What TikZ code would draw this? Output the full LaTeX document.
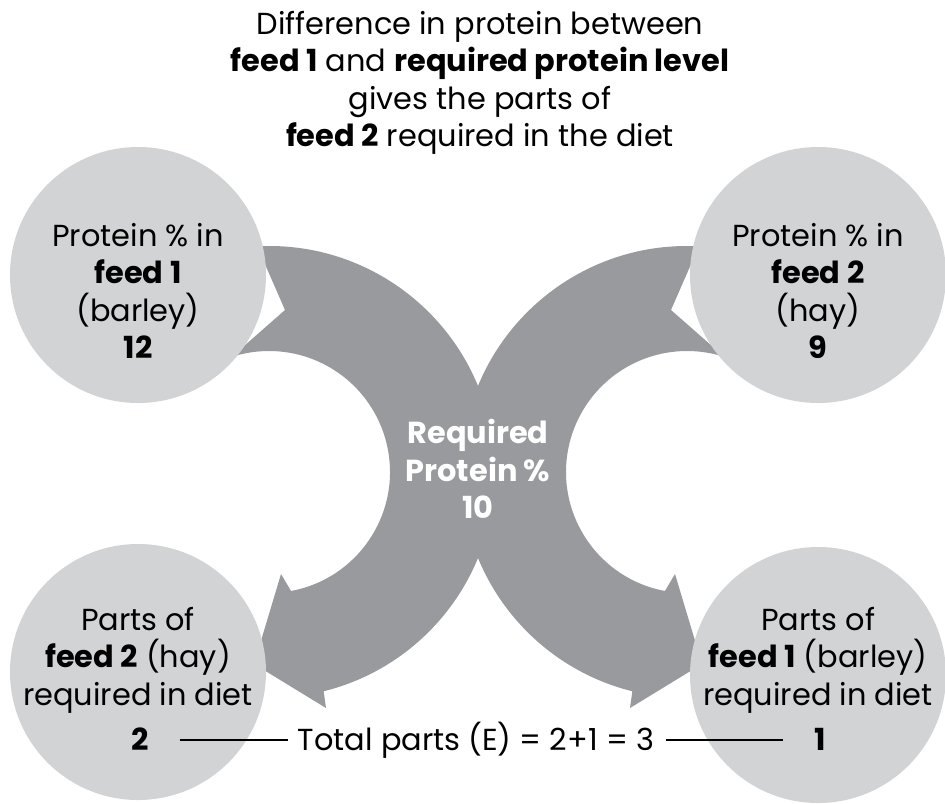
\documentclass[tikz,border=0pt]{standalone}
\usepackage{fontspec}
\setmainfont{Poppins}
\usetikzlibrary{positioning}

\definecolor{discgray}{HTML}{D1D3D4}
\definecolor{arrowgray}{HTML}{999A9E}

\begin{document}
\begin{tikzpicture}[
        x=0.75pt, y=-0.75pt,                 % one unit = one pixel, y downwards
        every node/.style={
            font=\fontsize{22.8}{28.1}\selectfont,
            align=center,
            inner sep=0pt
        },
        disc/.style={circle, fill=discgray, minimum size=192pt},
        midtext/.style={text=white, font=\fontsize{22.8}{28.1}\selectfont\bfseries},
        val/.style={font=\fontsize{22.8}{28.1}\selectfont\bfseries, text height=15pt, text depth=0pt},
        sumtext/.style={text height=15pt, text depth=0pt},
        sumline/.style={line width=1.5pt},
        bigarrow/.pic={
            \fill[arrowgray] ([shift={(-93:226)}]269,472)
                arc[start angle=-93, end angle=76, radius=226]
                -- (326,708) -- (254,664) -- (281,574)
                -- ([shift={(79.5:121)}]269,472)
                arc[start angle=79.5, end angle=-108, radius=121]
                -- (285,310) -- cycle;
        }
    ]
    \useasboundingbox (0,0) rectangle (945,803);

    % the two curved arrows
    \pic {bigarrow};
    \pic[shift={(956,0)}, xscale=-1] {bigarrow};

    % discs
    \node[disc] (feedA) at (138,275) {};
    \node[disc] (feedB) at (818,275) {};
    \node[disc] (partsB) at (138,672) {};
    \node[disc] (partsA) at (818,675) {};

    % heading
    \node (head) at (480,83) {Difference in protein between\\
        \textbf{feed 1} and \textbf{required protein level}\\
        gives the parts of\\
        \textbf{feed 2} required in the diet};

    % disc texts
    \node (feedAtxt) at (138,291) {Protein \% in\\ \textbf{feed 1}\\ (barley)\\ \textbf{12}};
    \node (feedBtxt) at (818,291) {Protein \% in\\ \textbf{feed 2}\\ (hay)\\ \textbf{9}};
    \node (partsBtxt) at (138,660) {Parts of\\ \textbf{feed 2} (hay)\\ required in diet};
    \node (partsAtxt) at (818,660) {Parts of\\ \textbf{feed 1} (barley)\\ required in diet};
    \node[midtext] (req) at (478,469) {Required\\ Protein \%\\ 10};

    % total parts
    \node[val] (v2) at (140,740) {2};
    \node[val] (v1) at (820,740) {1};
    \node[sumtext] (total) at (476,740) {Total parts (E) = 2+1 = 3};
    \draw[sumline, shorten <=23pt, shorten >=7pt] (v2) -- (total);
    \draw[sumline, shorten <=9pt, shorten >=23pt] (total) -- (v1);
\end{tikzpicture}
\end{document}
